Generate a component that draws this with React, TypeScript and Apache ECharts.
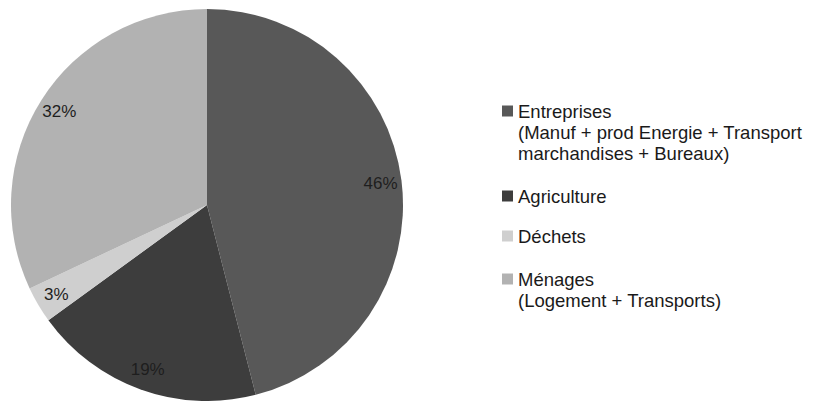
import React, { useEffect, useRef } from "react";
import * as echarts from "echarts";

const categories = ["Entreprises", "Agriculture", "Déchets", "Ménages"];
const legendLabels = [
  "Entreprises\n(Manuf + prod Energie + Transport\nmarchandises + Bureaux)",
  "Agriculture",
  "Déchets",
  "Ménages\n(Logement + Transports)",
];
const shares = [46, 19, 3, 32];
const colors = ["#585858", "#3d3d3d", "#cfcfcf", "#b2b2b2"];

const FONT = "'Liberation Sans', Arial, sans-serif";
const LINE_H = 21;
const ICON = 11;
const iconCenters = [111, 196, 236, 279];

export default function App() {
  const ref = useRef<HTMLDivElement>(null);
  useEffect(() => {
    if (!ref.current) return;
    const chart = echarts.init(ref.current, null, { renderer: "svg" });
    const legends = categories.map((name, i) => {
      const n = legendLabels[i].split("\n").length;
      // blank lines before the text keep the first line level with the icon
      const padded = "\n".repeat(n - 1) + legendLabels[i];
      const boxH = LINE_H * (2 * n - 1);
      return {
        orient: "vertical",
        left: 502,
        top: iconCenters[i] - boxH / 2,
        padding: 0,
        itemWidth: ICON,
        itemHeight: ICON,
        icon: "rect",
        selectedMode: false,
        data: [name],
        formatter: () => padded,
        textStyle: {
          fontFamily: FONT,
          fontSize: 18.5,
          color: "#1a1a1a",
          lineHeight: LINE_H,
        },
      };
    });
    chart.setOption({
      animation: false,
      backgroundColor: "#ffffff",
      legend: legends,
      series: [
        {
          type: "pie",
          center: [207, 205],
          radius: [0, 196],
          startAngle: 90,
          clockwise: true,
          silent: true,
          label: { show: false },
          labelLine: { show: false },
          itemStyle: { borderWidth: 0 },
          emphasis: { disabled: true },
          data: categories.map((name, i) => ({
            name,
            value: shares[i],
            itemStyle: { color: colors[i] },
          })),
        },
        {
          type: "pie",
          center: [207, 205],
          radius: [148, 196],
          startAngle: 90,
          clockwise: true,
          silent: true,
          itemStyle: { color: "transparent", borderWidth: 0 },
          emphasis: { disabled: true },
          labelLine: { show: false },
          label: {
            show: true,
            position: "inside",
            formatter: "{c}%",
            fontFamily: FONT,
            fontSize: 17,
            color: "#1e1e1e",
            textBorderWidth: 0,
          },
          data: categories.map((name, i) => ({ name, value: shares[i] })),
        },
      ],
    });
    return () => chart.dispose();
  }, []);
  return (
    <div
      ref={ref}
      style={{ position: "absolute", left: 0, top: 0, width: 819, height: 401 }}
    />
  );
}
